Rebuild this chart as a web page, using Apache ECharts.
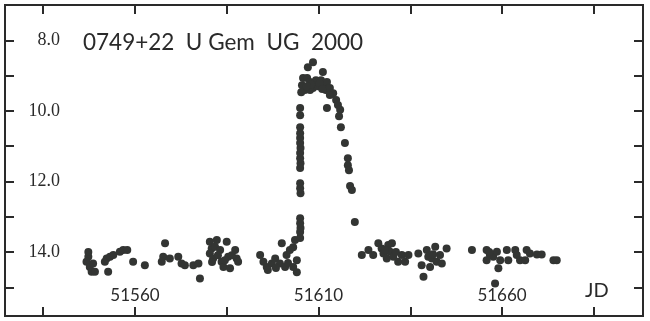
<!DOCTYPE html>
<html>
<head>
<meta charset="utf-8">
<script src="https://cdn.jsdelivr.net/npm/echarts@6/dist/echarts.min.js"></script>
<style>
  html, body { margin: 0; padding: 0; background: #fff; }
  #chart { width: 650px; height: 321px; }
</style>
</head>
<body>
<div id="chart"></div>
<script>
// U Gem light curve, JD 2451500+ vs visual magnitude
const titleText = '0749+22  U Gem  UG  2000';
const xTicks = [51535, 51560, 51585, 51610, 51635, 51660, 51685];
const xLabels = [51560, 51610, 51660];
const yTicks = [8, 9, 10, 11, 12, 13, 14, 15];
const yLabels = [8, 10, 12, 14];

// quiescence before the outburst
const before = [
  [51547.3, 14.13], [51546.8, 14.27], [51547.7, 14.42], [51548.2, 14.56], [51549.1, 14.56],
  [51548.6, 14.32], [51547.3, 14.0], [51551.8, 14.27], [51552.3, 14.18], [51553.2, 14.13],
  [51552.7, 14.56], [51554.1, 14.08], [51555.9, 13.99], [51556.8, 13.94], [51557.9, 13.94],
  [51559.5, 14.27], [51562.7, 14.37], [51568.2, 13.75], [51567.7, 14.13], [51567.3, 14.27],
  [51569.5, 14.18], [51571.8, 14.13], [51572.7, 14.32], [51573.6, 14.37], [51575.9, 14.37],
  [51577.3, 14.32], [51577.7, 14.75], [51580.4, 13.71], [51580.9, 13.9], [51580.4, 14.04],
  [51582.3, 13.66], [51581.8, 13.85], [51581.3, 14.18], [51583.2, 13.94], [51583.6, 14.27],
  [51584.1, 14.42], [51585.0, 13.71], [51585.4, 14.13], [51585.9, 14.46], [51587.3, 13.94],
  [51587.7, 14.18], [51588.1, 14.27], [51581.0, 14.28], [51582.6, 14.09], [51584.5, 14.23],
  [51586.4, 14.09], [51594.1, 14.08], [51595.0, 14.27], [51595.9, 14.42], [51597.3, 14.32],
  [51598.2, 14.18], [51599.5, 14.32], [51600.0, 13.75], [51600.9, 14.42], [51601.3, 14.08],
  [51602.2, 13.94], [51603.1, 13.86], [51603.6, 13.66], [51601.7, 14.31], [51603.1, 14.42],
  [51604.1, 14.23], [51604.1, 14.57], [51596.2, 14.51], [51598.4, 14.45]
];

// steep rise
const rise = [
  [51605.0, 13.6], [51605.0, 13.43], [51605.1, 13.32], [51605.0, 13.18], [51605.0, 13.04],
  [51605.1, 12.33], [51605.0, 12.19], [51605.0, 12.05], [51605.0, 11.62], [51605.1, 11.48],
  [51605.0, 11.34], [51605.0, 11.19], [51605.1, 11.05], [51605.0, 10.91], [51605.0, 10.77],
  [51605.0, 10.63], [51605.0, 10.46], [51605.0, 10.12], [51605.0, 9.92]
];

// maximum
const peak = [
  [51608.5, 8.62], [51607.1, 8.76], [51611.2, 8.90], [51605.8, 9.07], [51606.9, 9.07],
  [51605.5, 9.27], [51606.3, 9.41], [51607.7, 9.18], [51608.5, 9.35], [51609.3, 9.13],
  [51609.9, 9.30], [51610.7, 9.13], [51611.5, 9.30], [51612.3, 9.18], [51612.0, 9.41],
  [51613.1, 9.35], [51614.0, 9.50], [51607.7, 9.41], [51605.3, 9.47], [51608.0, 9.25],
  [51610.3, 9.22], [51611.0, 9.38], [51606.8, 9.30]
];

// decline
const decline = [
  [51613.1, 9.55], [51614.8, 9.69], [51615.3, 9.83], [51615.9, 9.97], [51615.6, 10.15],
  [51612.3, 9.92], [51616.1, 10.46], [51617.2, 10.91], [51618.0, 11.34], [51618.0, 11.54],
  [51618.3, 11.68], [51618.6, 12.13], [51619.1, 12.24], [51619.9, 13.15]
];

// quiescence after the outburst
const after = [
  [51621.8, 14.08], [51623.6, 13.94], [51624.9, 14.08], [51626.3, 13.75], [51627.2, 13.9],
  [51627.7, 14.04], [51628.6, 14.18], [51629.0, 13.8], [51629.5, 13.99], [51630.0, 13.75],
  [51630.4, 14.13], [51631.7, 14.27], [51632.7, 14.08], [51633.6, 14.27], [51634.5, 14.08],
  [51637.2, 14.04], [51638.1, 14.37], [51638.6, 14.7], [51639.5, 13.94], [51639.9, 14.13],
  [51640.9, 14.18], [51641.8, 13.85], [51642.2, 14.27], [51643.1, 14.08], [51643.6, 14.32],
  [51644.9, 13.9], [51640.4, 14.42], [51628.1, 13.94], [51631.1, 14.0], [51641.2, 14.06],
  [51651.8, 13.94], [51655.8, 13.94], [51656.7, 14.08], [51655.8, 14.23], [51657.6, 14.13],
  [51658.6, 13.99], [51659.0, 14.46], [51658.1, 14.89], [51659.5, 14.23], [51661.3, 13.94],
  [51661.7, 14.23], [51663.6, 13.94], [51664.0, 14.08], [51664.9, 14.23], [51666.7, 13.94],
  [51667.6, 14.04], [51669.5, 14.07], [51670.8, 14.07], [51666.3, 14.23], [51674.0, 14.23],
  [51674.9, 14.23], [51656.5, 14.0]
];

const ink = '#333533';
const xMin = 51524.6, xMax = 51698.4;
const yMin = 7.0, yMax = 15.81;

const chart = echarts.init(document.getElementById('chart'));

const tickStyle = { show: true, inside: true, length: 9, lineStyle: { color: '#2a2a2a', width: 2 } };

chart.setOption({
  animation: false,
  backgroundColor: '#fff',
  title: {
    text: titleText,
    left: 78, top: 26,
    textStyle: { fontFamily: 'Lato', fontWeight: 'normal', fontSize: 22.5, color: '#2a2a2a' }
  },
  graphic: [{
    type: 'text', left: 585, top: 281,
    style: { text: 'JD', fontFamily: 'Lato', fontSize: 20, fill: '#2a2a2a' }
  }],
  grid: {
    left: 5, right: 7, top: 5, bottom: 5,
    show: true, borderColor: '#2a2a2a', borderWidth: 2
  },
  xAxis: [{
    type: 'value', position: 'bottom', min: xMin, max: xMax,
    axisLine: { show: false },
    splitLine: { show: false },
    axisTick: Object.assign({ customValues: xTicks }, tickStyle),
    axisLabel: {
      inside: true, margin: 12, customValues: xLabels,
      fontFamily: 'Lato', fontSize: 17, color: '#2a2a2a',
      formatter: v => String(v)
    }
  }, {
    type: 'value', position: 'top', min: xMin, max: xMax,
    axisLine: { show: false },
    splitLine: { show: false },
    axisTick: Object.assign({ customValues: xTicks }, tickStyle),
    axisLabel: { show: false }
  }],
  yAxis: [{
    type: 'value', position: 'left', inverse: true, min: yMin, max: yMax,
    axisLine: { show: false },
    splitLine: { show: false },
    axisTick: Object.assign({ customValues: yTicks }, tickStyle),
    axisLabel: {
      inside: true, margin: 55, align: 'right', customValues: yLabels,
      fontFamily: 'Liberation Serif', fontSize: 18, color: '#2a2a2a',
      formatter: v => v.toFixed(1)
    }
  }, {
    type: 'value', position: 'right', inverse: true, min: yMin, max: yMax,
    axisLine: { show: false },
    splitLine: { show: false },
    axisTick: Object.assign({ customValues: yTicks }, tickStyle),
    axisLabel: { show: false }
  }],
  series: [before, rise, peak, decline, after].map(d => ({
    type: 'scatter',
    data: d,
    symbolSize: 8,
    itemStyle: { color: ink, opacity: 1 }
  }))
});
</script>
</body>
</html>
